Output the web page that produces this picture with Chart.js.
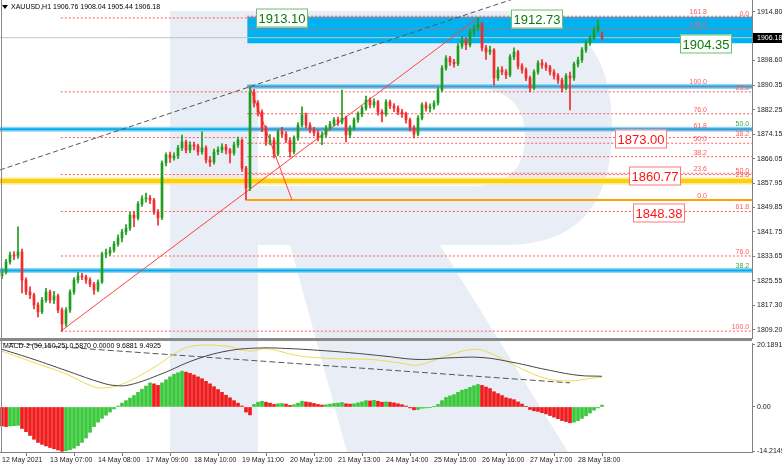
<!DOCTYPE html>
<html>
<head>
<meta charset="utf-8">
<script src="https://cdn.jsdelivr.net/npm/chart.js@4.4.0/dist/chart.umd.min.js"></script>
<style>
html, body { margin:0; padding:0; background:#fff; }
#wrap { position:relative; width:782px; height:467px; overflow:hidden; }
#wrap canvas { position:absolute; left:0; }
</style>
</head>
<body>
<div id="wrap">
<canvas id="bg" width="782" height="467" style="top:0"></canvas>
<canvas id="main" width="782" height="340" style="top:0"></canvas>
<canvas id="macd" width="782" height="127" style="top:340px"></canvas>
</div>
<script>
// XAUUSD candles, one per 2 hours
var candleOpen = [
 1827.1,1828.4,1831.8,1834.1,1833.7,1835.1,1825.8,1821.8,1820.8,1817.5,
 1815.2,1819.1,1821.8,1819.1,1820.5,1815.8,1811.2,1815.8,1821.8,1825.8,
 1827.1,1826.8,1825.8,1824.4,1822.5,1825.1,1834.4,1834.7,1835.7,1837.7,
 1839.7,1841.7,1843.0,1847.3,1846.4,1851.0,1852.7,1853.0,1852.3,1848.3,
 1846.4,1864.6,1867.3,1866.3,1866.9,1869.6,1871.6,1868.9,1870.6,1870.2,
 1868.3,1869.6,1865.6,1864.9,1868.3,1868.9,1869.9,1868.9,1867.9,1870.6,
 1872.2,1862.9,1856.3,1888.2,1884.5,1881.5,1876.2,1871.6,1872.2,1867.6,
 1874.9,1874.2,1872.2,1868.3,1872.9,1877.2,1880.5,1877.2,1875.5,1874.6,
 1872.9,1873.9,1876.2,1877.5,1878.9,1878.2,1879.5,1873.9,1876.2,1878.9,
 1880.9,1882.8,1885.5,1883.9,1884.9,1881.5,1880.9,1884.9,1883.5,1882.8,
 1881.5,1880.9,1878.9,1876.2,1874.2,1879.5,1883.9,1882.8,1883.2,1884.5,
 1888.8,1896.1,1899.4,1898.1,1897.5,1903.4,1905.4,1903.8,1908.1,1909.4,
 1910.7,1902.8,1901.4,1902.1,1892.8,1895.5,1894.8,1893.8,1899.8,1901.4,
 1896.8,1895.5,1892.8,1889.5,1894.8,1897.8,1897.1,1896.4,1894.8,1893.5,
 1892.1,1889.5,1893.5,1892.8,1897.4,1898.8,1902.1,1904.4,1906.1,1908.7,
 1906.76];
var candleHigh = [
 1829.5,1832.6,1835.0,1835.2,1843.4,1836.0,1826.5,1823.5,1821.4,1818.3,
 1820.0,1823.0,1822.4,1822.0,1821.1,1816.5,1816.6,1822.5,1826.6,1828.4,
 1828.0,1827.4,1826.5,1825.0,1825.8,1835.0,1836.0,1836.6,1838.6,1840.8,
 1842.6,1844.2,1848.2,1848.6,1851.8,1853.8,1854.6,1853.9,1852.9,1849.1,
 1865.3,1868.0,1868.2,1868.0,1870.5,1873.9,1872.2,1871.6,1871.5,1870.9,
 1874.9,1870.3,1866.8,1869.2,1870.0,1871.0,1870.8,1869.5,1871.5,1873.2,
 1872.6,1863.5,1889.8,1889.0,1885.3,1882.2,1876.9,1874.0,1872.9,1875.6,
 1876.4,1875.0,1872.9,1873.6,1878.0,1883.2,1881.2,1878.0,1876.4,1875.4,
 1874.9,1877.0,1878.4,1879.7,1879.8,1888.8,1880.2,1877.0,1879.6,1881.6,
 1883.5,1886.8,1886.2,1885.9,1885.4,1882.3,1885.6,1885.5,1884.3,1883.6,
 1882.4,1881.5,1879.5,1877.0,1880.3,1884.6,1884.8,1884.2,1885.3,1889.6,
 1896.9,1900.2,1900.0,1899.0,1904.2,1906.6,1906.2,1909.0,1910.4,1912.73,
 1911.3,1903.6,1903.4,1902.6,1896.4,1896.6,1895.6,1900.6,1902.8,1902.0,
 1897.6,1896.2,1893.4,1895.5,1898.6,1898.9,1897.9,1897.0,1895.6,1894.3,
 1892.8,1894.3,1894.8,1898.1,1899.7,1902.9,1905.2,1906.9,1909.5,1912.0,
 1908.04];
var candleLow = [
 1826.2,1827.8,1831.0,1832.5,1832.9,1821.5,1820.9,1819.6,1816.2,1813.5,
 1814.6,1818.4,1818.2,1817.9,1814.9,1808.8,1810.4,1815.0,1821.0,1824.8,
 1825.9,1824.6,1823.5,1821.0,1821.9,1824.6,1833.2,1833.9,1835.0,1837.0,
 1838.4,1840.8,1842.2,1843.5,1845.7,1850.2,1851.6,1851.1,1847.5,1844.0,
 1845.8,1863.6,1864.8,1865.5,1866.0,1868.8,1867.9,1868.0,1868.9,1867.2,
 1867.5,1864.6,1863.5,1864.2,1867.4,1868.0,1867.6,1864.6,1867.2,1869.8,
 1861.8,1852.3,1855.4,1883.2,1880.2,1875.0,1870.4,1870.6,1866.3,1867.0,
 1873.2,1871.3,1866.5,1867.6,1872.1,1876.6,1876.2,1874.6,1873.6,1871.9,
 1870.7,1873.2,1875.5,1876.9,1877.1,1877.6,1871.6,1873.0,1875.5,1878.1,
 1880.0,1882.1,1882.9,1883.0,1880.5,1878.2,1880.1,1882.6,1881.6,1880.6,
 1879.7,1877.8,1875.2,1872.9,1873.6,1878.9,1881.8,1881.5,1882.4,1883.8,
 1888.2,1895.4,1897.0,1896.4,1896.9,1902.6,1902.2,1903.1,1906.6,1908.5,
 1901.8,1899.0,1900.5,1890.5,1892.0,1893.9,1892.6,1893.2,1898.9,1895.8,
 1894.4,1891.9,1888.2,1888.9,1894.1,1896.0,1895.3,1893.8,1892.4,1891.0,
 1888.2,1888.9,1882.2,1892.0,1896.5,1898.0,1901.3,1903.6,1905.4,1907.9,
 1905.44];
var candleClose = [
 1828.4,1831.8,1834.1,1833.7,1835.1,1825.8,1821.8,1820.8,1817.5,1815.2,
 1819.1,1821.8,1819.1,1820.5,1815.8,1811.2,1815.8,1821.8,1825.8,1827.1,
 1826.8,1825.8,1824.4,1822.5,1825.1,1834.4,1834.7,1835.7,1837.7,1839.7,
 1841.7,1843.0,1847.3,1846.4,1851.0,1852.7,1853.0,1852.3,1848.3,1846.4,
 1864.6,1867.3,1866.3,1866.9,1869.6,1871.6,1868.9,1870.6,1870.2,1868.3,
 1869.6,1865.6,1864.9,1868.3,1868.9,1869.9,1868.9,1867.9,1870.6,1872.2,
 1862.9,1856.3,1888.2,1884.5,1881.5,1876.2,1871.6,1872.2,1867.6,1874.9,
 1874.2,1872.2,1868.3,1872.9,1877.2,1880.5,1877.2,1875.5,1874.6,1872.9,
 1873.9,1876.2,1877.5,1878.9,1878.2,1879.5,1873.9,1876.2,1878.9,1880.9,
 1882.8,1885.5,1883.9,1884.9,1881.5,1880.9,1884.9,1883.5,1882.8,1881.5,
 1880.9,1878.9,1876.2,1874.2,1879.5,1883.9,1882.8,1883.2,1884.5,1888.8,
 1896.1,1899.4,1898.1,1897.5,1903.4,1905.4,1903.8,1908.1,1909.4,1910.7,
 1902.8,1901.4,1902.1,1892.8,1895.5,1894.8,1893.8,1899.8,1901.4,1896.8,
 1895.5,1892.8,1889.5,1894.8,1897.8,1897.1,1896.4,1894.8,1893.5,1892.1,
 1889.5,1893.5,1892.8,1897.4,1898.8,1902.1,1904.4,1906.1,1908.7,1910.4,
 1906.18];

var priceTicks = [1914.80,1898.60,1890.35,1882.25,1874.15,1866.05,1857.95,1849.85,1841.75,1833.65,1825.55,1817.30,1809.20];
var lastPrice = 1906.18;
var timeTickIdx = [0,12,24,36,48,60,72,84,96,108,120,132,144];
var timeTickLabels = ['12 May 2021','13 May 07:00','14 May 08:00','17 May 09:00','18 May 10:00','19 May 11:00',
  '20 May 12:00','21 May 13:00','24 May 14:00','25 May 15:00','26 May 16:00','27 May 17:00','28 May 18:00'];

// fibonacci grids and levels
var fibALevels = ['0.0','23.6','38.2','50.0','61.8','76.0','100.0'];
var fibAPrices = [1912.73,1888.20,1873.03,1860.77,1848.51,1833.74,1808.80];
var fibBLevels = ['161.8','138.2','100.0','76.0','61.8','50.0','38.2','23.6','0.0'];
var fibBPrices = [1913.30,1909.10,1890.00,1880.95,1875.60,1871.15,1866.70,1861.20,1852.30];
var blueLevels = [1890.00,1875.80,1828.90];
var blueStart = [61.3,-0.5,-0.5];
var blueTags = ['','50.0','38.2'];
var goldLevel = 1858.60;
var zoneTop = 1913.10, zoneBottom = 1904.35;
var boxTexts = ['1913.10','1912.73','1904.35','1873.00','1860.77','1848.38'];
var boxPrices = [1913.10,1912.73,1904.35,1873.00,1860.77,1848.38];
var boxIdx = [63.5,127.25,169.5,153.25,156.75,157.75];
var boxGreen = [true,true,true,false,false,false];

// MACD-2 (50,150,25)
var macdHist = [
 -6.0,-6.2,-6.0,-5.9,-5.8,-6.8,-7.8,-9.0,-10.2,-11.2,
 -11.8,-12.3,-12.8,-13.2,-13.6,-14.0,-13.8,-13.5,-13.0,-12.2,
 -11.2,-9.8,-8.0,-6.2,-4.8,-3.6,-2.6,-1.6,-0.6,0.3,
 1.2,2.0,2.8,3.6,4.6,5.6,6.6,7.6,7.3,6.8,
 7.6,8.6,9.5,10.3,10.8,11.3,11.0,10.6,10.1,9.5,
 8.9,8.1,7.3,6.4,5.5,4.6,3.7,2.9,2.0,1.2,
 0.3,-1.6,-2.5,0.8,1.5,1.8,1.5,1.2,0.8,1.0,
 1.1,0.9,0.5,0.7,1.2,1.8,1.6,1.4,1.1,0.8,
 0.6,0.7,0.9,1.1,1.2,1.4,1.0,0.9,1.0,1.3,
 1.6,2.0,1.9,2.1,1.8,1.5,1.6,1.5,1.3,1.0,
 0.7,0.3,-0.3,-0.9,-0.8,-0.4,-0.3,-0.2,0.1,0.8,
 2.0,3.0,3.5,3.9,4.6,5.3,5.6,6.2,6.7,7.1,
 6.8,6.3,5.8,4.8,4.2,3.6,2.9,2.6,2.3,1.6,
 0.9,0.1,-0.8,-1.2,-1.4,-1.8,-2.2,-2.7,-3.2,-3.7,
 -4.3,-4.6,-5.0,-4.8,-4.3,-3.6,-2.8,-1.9,-1.0,-0.3,
 0.587];
var macdMainIdx = [0,8,16,24,28,32,40,48,56,64,72,80,88,96,104,112,120,128,136,144,150];
var macdMainVal = [18.2,15.0,11.5,8.0,6.8,7.0,10.5,14.8,17.6,18.6,18.4,17.8,17.0,16.0,15.0,15.5,15.6,14.0,11.8,10.0,9.6881];
var macdSignalIdx = [0,8,16,22,25,30,38,44,48,56,62,66,74,82,92,100,104,112,118,122,130,136,142,146,150];
var macdSignalVal = [17.6,14.0,10.4,6.8,6.0,7.2,12.5,17.5,19.3,19.2,17.6,18.4,16.2,15.3,15.0,13.8,13.2,16.5,18.2,17.0,12.0,9.0,8.2,8.8,9.4925];
var macdTrendIdx = [-0.5,142];
var macdTrendVal = [20.3,7.6];
var macdTickPos = [19.56,0,-13.9];
var macdTickText = ['20.1891','0.00','-14.2149'];

var FONT = '"Liberation Sans", Arial, sans-serif';
Chart.defaults.font.family = FONT;
Chart.defaults.font.size = 7;
Chart.defaults.color = '#111';

// watermark behind both panes
var g = document.getElementById('bg').getContext('2d');
g.fillStyle = '#e9edf5';
g.fillRect(170, 11, 88, 441);
g.beginPath();
g.moveTo(258, 11); g.lineTo(505, 11);
g.quadraticCurveTo(612, 11, 612, 128);
g.quadraticCurveTo(612, 245, 505, 245);
g.lineTo(258, 245); g.closePath();
g.moveTo(258, 88); g.lineTo(470, 88);
g.quadraticCurveTo(525, 88, 525, 137);
g.quadraticCurveTo(525, 186, 470, 186);
g.lineTo(258, 186); g.closePath();
g.fill('evenodd');
g.beginPath();
g.moveTo(290, 245); g.lineTo(440, 245); g.lineTo(568, 452); g.lineTo(347, 452); g.closePath();
g.fill();

function hline(x0, x1, price, color, width, dash, order) {
  return { type: 'line', data: [{x: x0, y: price}, {x: x1, y: price}], borderColor: color,
    borderWidth: width, borderDash: dash || [], pointRadius: 0, fill: false, order: order };
}
function seg(x0, y0, x1, y1, color, width, dash, order) {
  return { type: 'line', data: [{x: x0, y: y0}, {x: x1, y: y1}], borderColor: color,
    borderWidth: width, borderDash: dash || [], pointRadius: 0, fill: false, order: order };
}
function noPad(s) {
  s.paddingTop = 0; s.paddingBottom = 0; s.paddingLeft = 0; s.paddingRight = 0;
}

var bull = '#1e9e1e', bear = '#f52a2a';
var candleColors = candleClose.map(function(c, i) { return c >= candleOpen[i] ? bull : bear; });

var ds = [];
ds.push({ type: 'bar', data: candleOpen.map(function(o, i) { return {x: i, y: [o, candleClose[i]]}; }),
  backgroundColor: candleColors, barThickness: 2, minBarLength: 1, grouped: false, order: 0 });
ds.push({ type: 'bar', data: candleLow.map(function(l, i) { return {x: i, y: [l, candleHigh[i]]}; }),
  backgroundColor: candleColors, barThickness: 1, grouped: false, order: 1 });

// blue zone
ds.push({ type: 'line', data: [{x: 61.3, y: zoneTop}, {x: 187.5, y: zoneTop}], borderWidth: 0,
  borderColor: 'rgba(0,0,0,0)', backgroundColor: '#00b3f0', fill: {value: zoneBottom}, pointRadius: 0, order: 20 });
ds.push(hline(-0.5, 187.5, lastPrice, '#c4c4c4', 1, [], 15));
// fib A
fibAPrices.forEach(function(p) { ds.push(hline(14.7, 187.5, p, '#ff5a5a', 1, [2, 2], 10)); });
// fib B
fibBPrices.forEach(function(p, k) {
  if (fibBLevels[k] === '0.0') ds.push(hline(61.3, 187.5, p, '#ffa000', 2, [], 9));
  else ds.push(hline(61.3, 187.5, p, '#ff5a5a', 1, [2, 2], 10));
});
// gold band and blue levels
ds.push(hline(-0.5, 187.5, goldLevel, '#ffe98a', 7, [], 12));
ds.push(hline(-0.5, 187.5, goldLevel, '#fccf10', 4, [], 11));
blueLevels.forEach(function(p, k) {
  ds.push(hline(blueStart[k], 187.5, p, '#8fd6f6', 5, [], 12));
  ds.push(hline(blueStart[k], 187.5, p, '#05abea', 2, [], 11));
});
// trend lines
ds.push(seg(14.7, 1808.8, 119, 1912.73, '#ff4040', 1, [], 5));
ds.push(seg(62, 1889.8, 72.5, 1852.3, '#ff4040', 1, [], 5));
ds.push(seg(-0.5, 1862.3, 140, 1924.4, '#555', 1, [5, 3], 5));

var mainOverlay = {
  id: 'mainOverlay',
  afterDatasetsDraw: function(chart) {
    var ctx = chart.ctx, xs = chart.scales.x, ys = chart.scales.y;
    ctx.save();
    ctx.font = '7px ' + FONT;
    ctx.textAlign = 'right';
    ctx.textBaseline = 'alphabetic';
    ctx.fillStyle = '#ff5c5c';
    fibALevels.forEach(function(t, k) { ctx.fillText(t, xs.getPixelForValue(186.8), ys.getPixelForValue(fibAPrices[k]) - 2); });
    fibBLevels.forEach(function(t, k) { ctx.fillText(t, xs.getPixelForValue(176.25), ys.getPixelForValue(fibBPrices[k]) - 2); });
    ctx.fillText('23.6', xs.getPixelForValue(186.8), ys.getPixelForValue(goldLevel) - 4);
    ctx.fillStyle = '#3aa83a';
    blueLevels.forEach(function(p, k) {
      if (blueTags[k]) ctx.fillText(blueTags[k], xs.getPixelForValue(186.8), ys.getPixelForValue(p) - 3);
    });
    // boxed price labels
    ctx.font = '13px ' + FONT;
    ctx.textAlign = 'left';
    ctx.textBaseline = 'middle';
    boxTexts.forEach(function(t, k) {
      var x = Math.round(xs.getPixelForValue(boxIdx[k]));
      var y = Math.round(ys.getPixelForValue(boxPrices[k])) + 1;
      var w = Math.round(ctx.measureText(t).width) + 5, h = 19;
      ctx.fillStyle = '#fff';
      ctx.fillRect(x, y - h / 2, w, h);
      ctx.strokeStyle = boxGreen[k] ? '#6cbf6c' : '#ff7878';
      ctx.lineWidth = 1;
      ctx.strokeRect(x + 0.5, y - h / 2 + 0.5, w - 1, h - 1);
      ctx.fillStyle = boxGreen[k] ? '#0b7a0b' : '#ff1414';
      ctx.fillText(t, x + 2.5, y + 1);
    });
    ctx.restore();
  },
  afterDraw: function(chart) {
    var ctx = chart.ctx, ys = chart.scales.y, a = chart.chartArea;
    ctx.save();
    var y = Math.round(ys.getPixelForValue(lastPrice));
    ctx.fillStyle = '#000';
    ctx.fillRect(a.right + 1, y - 5, 782 - a.right - 1, 10);
    ctx.fillStyle = '#fff';
    ctx.font = '7px ' + FONT;
    ctx.textAlign = 'left';
    ctx.textBaseline = 'middle';
    ctx.fillText(lastPrice.toFixed(2), a.right + 5, y + 0.5);
    // header
    ctx.fillStyle = '#000';
    ctx.beginPath(); ctx.moveTo(2, 5); ctx.lineTo(8, 5); ctx.lineTo(5, 9); ctx.closePath(); ctx.fill();
    ctx.fillText('XAUUSD,H1 1906.76 1908.04 1905.44 1906.18', 11, 7);
    // pane frame
    ctx.fillStyle = '#8a8a8a';
    ctx.fillRect(0, 338, a.right, 2);
    ctx.fillRect(1, 0, 1, 340);
    ctx.restore();
  }
};

new Chart(document.getElementById('main'), {
  type: 'bar',
  data: { datasets: ds },
  options: {
    responsive: false, animation: false,
    layout: { padding: { left: 0, right: 0, top: 0, bottom: 2 } },
    plugins: { legend: { display: false }, tooltip: { enabled: false } },
    scales: {
      x: { type: 'linear', min: -0.5, max: 187.5, offset: false, display: false },
      y: {
        position: 'right', min: 1806.53, max: 1918.68,
        afterBuildTicks: function(s) { s.ticks = priceTicks.map(function(v) { return {value: v}; }); },
        afterFit: function(s) { s.width = 30; noPad(s); },
        ticks: { autoSkip: false, padding: 2, color: '#222', callback: function(v) { return Number(v).toFixed(2); } },
        grid: { drawOnChartArea: false, drawTicks: true, tickLength: 3, color: '#808080' },
        border: { display: true, color: '#808080' }
      }
    }
  },
  plugins: [mainOverlay]
});

// MACD pane
var histColors = macdHist.map(function(v, i) { return (i > 0 && v > macdHist[i - 1]) ? '#3cc83c' : '#ee1c1c'; });
var mds = [];
mds.push({ type: 'line', data: macdMainIdx.map(function(x, k) { return {x: x, y: macdMainVal[k]}; }),
  borderColor: '#444', borderWidth: 1, pointRadius: 0, tension: 0.4, fill: false, order: 1 });
mds.push({ type: 'line', data: macdSignalIdx.map(function(x, k) { return {x: x, y: macdSignalVal[k]}; }),
  borderColor: '#f0d850', borderWidth: 1, pointRadius: 0, tension: 0.4, fill: false, order: 2 });
mds.push({ type: 'line', data: macdTrendIdx.map(function(x, k) { return {x: x, y: macdTrendVal[k]}; }),
  borderColor: '#555', borderWidth: 1, borderDash: [6, 3], pointRadius: 0, fill: false, order: 3 });
mds.push({ type: 'bar', data: macdHist.map(function(v, i) { return {x: i, y: v}; }),
  backgroundColor: histColors, barThickness: 3, grouped: false, order: 4 });

var macdOverlay = {
  id: 'macdOverlay',
  afterDraw: function(chart) {
    var ctx = chart.ctx;
    ctx.save();
    ctx.fillStyle = '#000';
    ctx.font = '7px ' + FONT;
    ctx.textBaseline = 'middle';
    ctx.fillText('MACD-2 (50,150,25) 0.5870 0.0000 9.6881 9.4925', 3, 6);
    ctx.fillStyle = '#8a8a8a';
    ctx.fillRect(0, 0, chart.chartArea.right, 1);
    ctx.fillRect(1, 0, 1, chart.chartArea.bottom);
    ctx.restore();
  }
};

new Chart(document.getElementById('macd'), {
  type: 'bar',
  data: { datasets: mds },
  options: {
    responsive: false, animation: false,
    layout: { padding: { left: 0, right: 0, top: 3, bottom: 0 } },
    plugins: { legend: { display: false }, tooltip: { enabled: false } },
    scales: {
      x: {
        type: 'linear', min: -0.5, max: 187.5, offset: false,
        afterBuildTicks: function(s) { s.ticks = timeTickIdx.map(function(v) { return {value: v}; }); },
        afterFit: function(s) { s.height = 15; noPad(s); },
        ticks: { autoSkip: false, maxRotation: 0, align: 'start', padding: 0, color: '#222',
          callback: function(v) { return timeTickLabels[timeTickIdx.indexOf(v)]; } },
        grid: { drawOnChartArea: false, drawTicks: true, tickLength: 4, color: '#808080' },
        border: { display: true, color: '#808080' }
      },
      y: {
        position: 'right', min: -14.2149, max: 20.1891,
        afterBuildTicks: function(s) { s.ticks = macdTickPos.map(function(v) { return {value: v}; }); },
        afterFit: function(s) { s.width = 30; noPad(s); },
        ticks: { autoSkip: false, padding: 2, color: '#222',
          callback: function(v) { return macdTickText[macdTickPos.indexOf(v)]; } },
        grid: { drawOnChartArea: false, drawTicks: true, tickLength: 3, color: '#808080' },
        border: { display: true, color: '#808080' }
      }
    }
  },
  plugins: [macdOverlay]
});
</script>
</body>
</html>
